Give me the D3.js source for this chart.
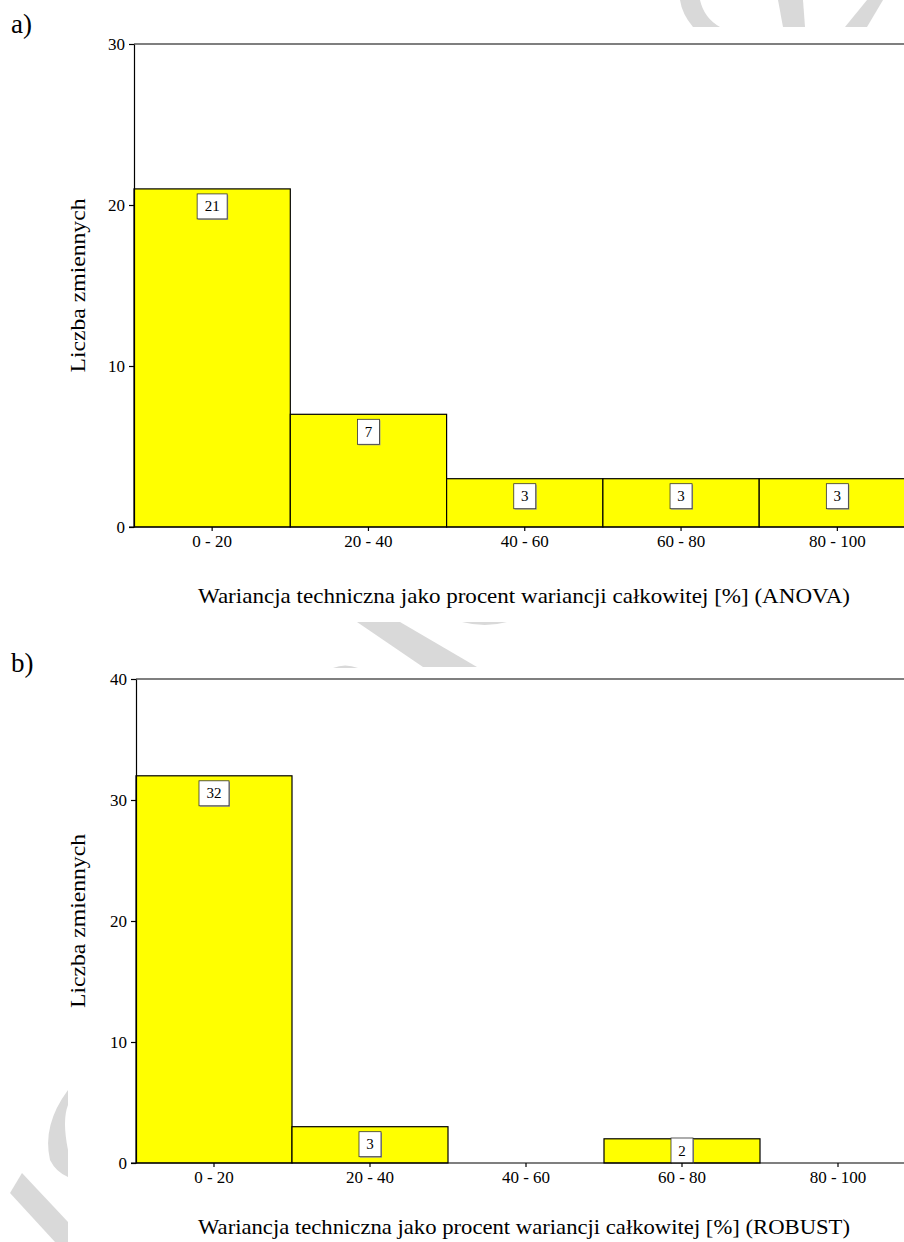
<!DOCTYPE html>
<head>
  <meta charset="utf-8">
  <script src="https://d3js.org/d3.v7.min.js"></script>
  <style>
    body { margin:0; background:#fff; }
    svg { display:block; font-family:"Liberation Serif", "DejaVu Serif", serif; }
    .axis path, .axis line { stroke:#000; stroke-width:1.2; }
    .axis text { font-size:17px; fill:#000; font-family:"Liberation Serif", serif; }
  </style>
</head>
<body>
  <script>
    // data
    var categories = ["0 - 20", "20 - 40", "40 - 60", "60 - 80", "80 - 100"];
    var countsAnova = [21, 7, 3, 3, 3];
    var countsRobust = [32, 3, 0, 2, 0];
    var yTicksAnova = [0, 10, 20, 30];
    var yTicksRobust = [0, 10, 20, 30, 40];

    var width = 904, height = 1242;

    var svg = d3.select("body").append("svg")
      .attr("width", width)
      .attr("height", height);

    // faint page watermark showing between the two figures
    var wm = svg.append("g").attr("fill", "#d9d9d9");
    wm.append("path").attr("d", "M680,0 L700,0 Q704,18 720,27 L693,27 Q682,14 680,0 Z");
    wm.append("path").attr("d", "M778,0 L803,0 L805,27 L783,27 Z");
    wm.append("path").attr("d", "M867,0 L883,0 L867,27 L845,27 Z");
    wm.append("path").attr("d", "M357,622 L400,622 L477,667 L423,667 Z");
    wm.append("path").attr("d", "M462,622 L507,622 Q485,628 462,622 Z");
    wm.append("path").attr("d", "M333,668 Q345,663 358,668 Z");
    wm.append("path").attr("d", "M68,1090 Q42,1125 50,1160 Q56,1172 68,1177 L68,1150 Q62,1120 68,1105 Z");
    wm.append("path").attr("d", "M10,1193 L22,1173 L68,1222 L68,1242 L55,1242 Z");

    function histogram(cfg) {
      var x = d3.scaleBand()
        .domain(categories)
        .range([cfg.left, cfg.left + cfg.band * categories.length])
        .paddingInner(0).paddingOuter(0);
      var y = d3.scaleLinear()
        .domain([0, cfg.yMax])
        .range([cfg.bottom, cfg.top]);

      var g = svg.append("g");

      // panel letter
      g.append("text")
        .attr("x", 11).attr("y", cfg.letterY)
        .style("font-size", "27px")
        .text(cfg.letter);

      // top frame line
      g.append("line")
        .attr("x1", cfg.left).attr("x2", width)
        .attr("y1", y(cfg.yMax)).attr("y2", y(cfg.yMax))
        .attr("stroke", "#000").attr("stroke-width", 1.2);

      var data = categories.map(function(c, i) { return { cat: c, n: cfg.counts[i] }; });
      var nonEmpty = data.filter(function(d) { return d.n > 0; });

      g.selectAll("rect.bar")
        .data(nonEmpty)
        .enter().append("rect")
        .attr("class", "bar")
        .attr("x", function(d) { return x(d.cat); })
        .attr("width", x.bandwidth())
        .attr("y", function(d) { return y(d.n); })
        .attr("height", function(d) { return y(0) - y(d.n); })
        .attr("fill", "#ffff00")
        .attr("stroke", "#000")
        .attr("stroke-width", 1.2);

      // value boxes
      g.selectAll("g.lab")
        .data(nonEmpty)
        .enter().append("g")
        .attr("class", "lab")
        .each(function(d) {
          var el = d3.select(this);
          var cx = x(d.cat) + x.bandwidth() / 2;
          var w = String(d.n).length > 1 ? 30 : 22, h = 25;
          var top = Math.min(y(d.n) + 5, y(0) - h);
          el.append("rect")
            .attr("x", cx - w / 2 + 1).attr("y", top + 1)
            .attr("width", w).attr("height", h)
            .attr("fill", "#999");
          el.append("rect")
            .attr("x", cx - w / 2).attr("y", top)
            .attr("width", w).attr("height", h)
            .attr("fill", "#fff")
            .attr("stroke", "#333").attr("stroke-width", 0.8);
          el.append("text")
            .attr("x", cx).attr("y", top + h / 2 + 5)
            .attr("text-anchor", "middle")
            .style("font-size", "15px")
            .text(d.n);
        });

      // axes
      var xAxis = g.append("g")
        .attr("class", "axis")
        .attr("transform", "translate(0," + y(0) + ")")
        .call(d3.axisBottom(x).tickSize(4).tickSizeOuter(0).tickPadding(4));
      xAxis.select(".domain").attr("d", "M" + (cfg.left - 5) + ",0H" + width);

      g.append("g")
        .attr("class", "axis")
        .attr("transform", "translate(" + cfg.left + ",0)")
        .call(d3.axisLeft(y).tickValues(cfg.yTicks).tickSize(5).tickSizeOuter(0).tickPadding(4));

      // titles
      g.append("text")
        .attr("transform", "translate(" + 85 + "," + ((cfg.top + cfg.bottom) / 2) + ") rotate(-90)")
        .attr("text-anchor", "middle")
        .attr("textLength", 174)
        .attr("lengthAdjust", "spacingAndGlyphs")
        .style("font-size", "20px")
        .text("Liczba zmiennych");

      g.append("text")
        .attr("x", 524).attr("y", cfg.titleY)
        .attr("text-anchor", "middle")
        .attr("textLength", 652)
        .attr("lengthAdjust", "spacingAndGlyphs")
        .style("font-size", "21px")
        .text(cfg.title);
    }

    histogram({
      letter: "a)", letterY: 33,
      counts: countsAnova, yTicks: yTicksAnova, yMax: 30,
      left: 134, top: 44, bottom: 527, band: 156.3,
      title: "Wariancja techniczna jako procent wariancji całkowitej [%] (ANOVA)", titleY: 603
    });

    histogram({
      letter: "b)", letterY: 672,
      counts: countsRobust, yTicks: yTicksRobust, yMax: 40,
      left: 136, top: 679, bottom: 1163, band: 156,
      title: "Wariancja techniczna jako procent wariancji całkowitej [%] (ROBUST)", titleY: 1234
    });
  </script>
</body>
